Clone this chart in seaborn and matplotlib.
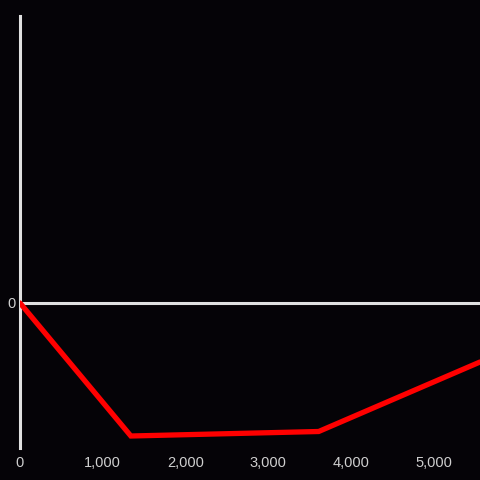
import matplotlib
matplotlib.use("Agg")
import matplotlib.pyplot as plt
import matplotlib.ticker as mticker
import seaborn as sns
import pandas as pd

# values
x_vals = [0, 1340, 3610, 5560]
y_vals = [0, -1330, -1285, -590]
x_ticks = [0, 1000, 2000, 3000, 4000, 5000]

bg = "#050307"
axis_col = "#e0e0e0"
label_col = "#cfcfcf"

sns.set_theme(style="dark", rc={
    "axes.facecolor": bg,
    "figure.facecolor": bg,
    "axes.grid": False,
})
plt.rcParams["font.family"] = ["Liberation Sans", "DejaVu Sans"]

df = pd.DataFrame({"x": x_vals, "y": y_vals})

fig = plt.figure(figsize=(4.8, 4.8), dpi=100)
ax = fig.add_axes([20 / 480, 32 / 480, 460 / 480, 432 / 480])

sns.lineplot(data=df, x="x", y="y", ax=ax, color="#ff0000", linewidth=3.8,
             solid_joinstyle="miter", zorder=3)
ax.axhline(0, color=axis_col, linewidth=2.2, zorder=2)

ax.set_xlim(0, 5560)
ax.set_ylim(-1450, 2870)
ax.set_xticks(x_ticks)
ax.xaxis.set_major_formatter(mticker.StrMethodFormatter("{x:,.0f}"))
ax.set_yticks([0])
ax.set_xlabel("")
ax.set_ylabel("")

for s in ["top", "right", "bottom"]:
    ax.spines[s].set_visible(False)
ax.spines["left"].set_color(axis_col)
ax.spines["left"].set_linewidth(2.2)

ax.tick_params(axis="both", length=0, colors=label_col, labelsize=10.5)
ax.tick_params(axis="x", pad=6)
ax.tick_params(axis="y", pad=3)

fig.savefig("out.png", dpi=100, facecolor=bg)
